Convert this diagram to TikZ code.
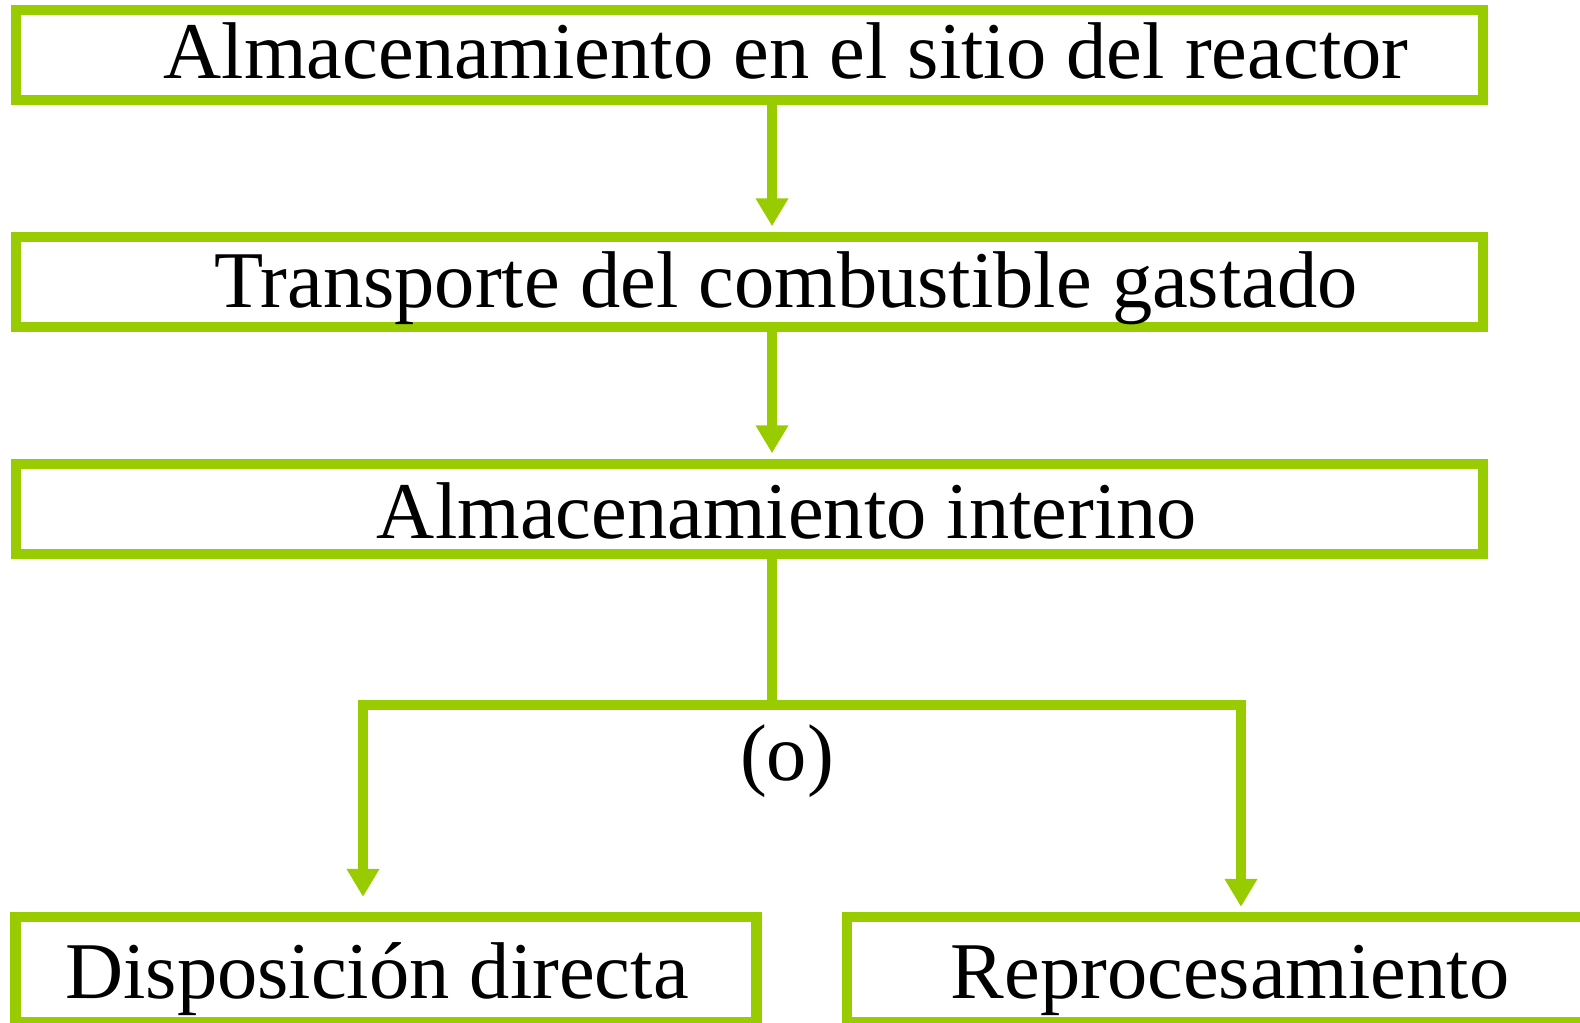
\documentclass[tikz,border=0pt]{standalone}
\usepackage{fontspec}
\setmainfont{Liberation Serif}
\usetikzlibrary{arrows.meta}
\definecolor{verde}{HTML}{99CC00}
\tikzset{caja/.style={draw=verde,line width=5.95pt,rectangle,inner sep=0pt},
texto/.style={anchor=base,inner sep=0pt,font=\fontsize{45.8pt}{55pt}\selectfont},
linea/.style={draw=verde,line width=5.95pt},
flecha/.style={linea,-{Triangle[width=17.6pt,length=15.9pt]}}}

\begin{document}
\begin{tikzpicture}[x=0.02cm,y=-0.02cm]
\useasboundingbox (0,0) rectangle (1580,1023);
\clip (0,0) rectangle (1580,1023);
\path
(749.5,55) node[caja,minimum width=29.34cm,minimum height=1.81cm](1){}
(749.5,282) node[caja,minimum width=29.34cm,minimum height=1.81cm](2){}
(749.5,509) node[caja,minimum width=29.34cm,minimum height=1.81cm](3){}
(386,969.5) node[caja,minimum width=14.82cm,minimum height=2.1cm](4){}
(1223.5,969.5) node[caja,minimum width=15.06cm,minimum height=2.1cm](5){};
\path
(786,79) node[texto](t1){Almacenamiento en el sitio del reactor}
(786,308) node[texto](t2){Transporte del combustible gastado}
(787,539) node[texto](t3){Almacenamiento interino}
(377,998) node[texto](t4){Disposición directa}
(1230,998) node[texto](t5){Reprocesamiento}
(787,781) node[texto](o){(o)};
\coordinate (c) at (772,705);
\coordinate (i) at (363,705);
\coordinate (d) at (1241,705);
\path[flecha,shorten >=3pt] (1.south -| c)--(2.north -| c);
\path[flecha,shorten >=3pt] (2.south -| c)--(3.north -| c);
\path[linea] (3.south -| c)--(c);
\path[flecha,shorten >=8.5pt] (c)--(i)--(4.north -| i);
\path[flecha,shorten >=2.8pt] (c)--(d)--(5.north -| d);
\end{tikzpicture}
\end{document}
